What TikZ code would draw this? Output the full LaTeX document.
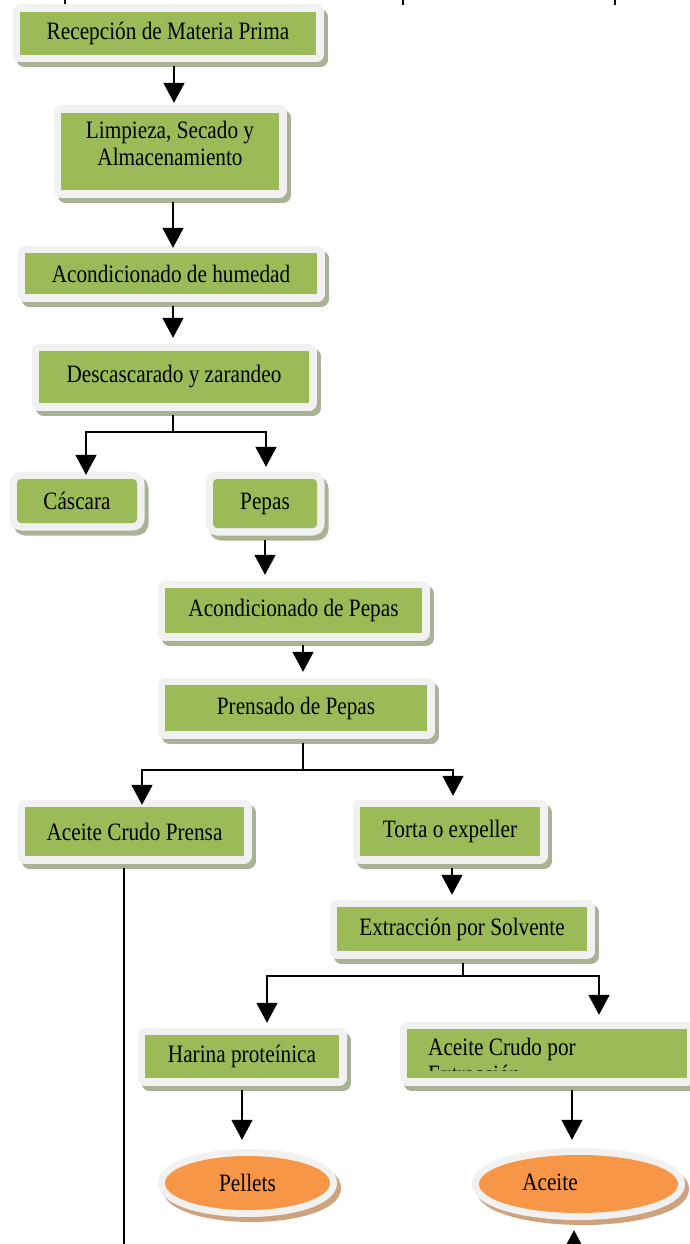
\documentclass[tikz,border=0pt]{standalone}
\usepackage{graphicx}
\usepackage{fontspec}
\setmainfont{Liberation Serif}
\usetikzlibrary{arrows.meta,shapes.geometric}

\definecolor{boxgreen}{HTML}{9BBB59}
\definecolor{framegray}{HTML}{F1F1F1}
\definecolor{shadowgreen}{HTML}{A8B294}
\definecolor{orangefill}{HTML}{F79646}
\definecolor{tanshadow}{HTML}{CFA27E}

% slightly condensed serif lettering
\newcommand\nar[1]{\scalebox{0.85}[1]{#1}}

\tikzset{
  every node/.style={font=\fontsize{25}{27}\selectfont, text=black},
  stepbox/.style n args={2}{fill=boxgreen, inner sep=0pt,
    minimum width=#1, minimum height=#2, align=center,
    preaction={fill=shadowgreen, draw=shadowgreen, line width=15pt,
      line join=round, transform canvas={shift={(4pt,-5pt)}}},
    preaction={draw=framegray, line width=15pt, line join=round}},
  endoval/.style n args={2}{ellipse, fill=orangefill, inner sep=0pt,
    minimum width=#1, minimum height=#2,
    preaction={fill=tanshadow, draw=tanshadow, line width=14pt,
      transform canvas={shift={(4pt,-5pt)}}},
    preaction={draw=framegray, line width=14pt}},
  link/.style={draw=black, line width=1.6pt},
  arr/.style={link, -{Triangle[length=20pt,width=21pt]}},
}

\begin{document}
\begin{tikzpicture}[x=1pt, y=-1pt]
\useasboundingbox (0,0) rectangle (690,1244);

% stubs of lettering cut off along the top edge
\draw[line width=2pt] (65,0) -- (65,5);
\draw[line width=2pt] (403,0) -- (403,5);
\draw[line width=2pt] (615,0) -- (615,5);

% process steps
\node[stepbox={296pt}{43pt}] (b1) at (168,33.5) {\nar{Recepción de Materia Prima}};
\node[stepbox={218pt}{77pt}] (b2) at (170,151.5) {\nar{Limpieza, Secado y}\\\nar{Almacenamiento}\\[-10pt]};
\node[stepbox={292pt}{41pt}] (b3) at (171,273.5) {\nar{Acondicionado de humedad}};
\node[stepbox={270pt}{52pt}] (b4) at (174,377) {\nar{Descascarado y zarandeo}};
\node[stepbox={120pt}{44pt}, rounded corners=4pt] (cas) at (77,501) {\nar{Cáscara}};
\node[stepbox={104pt}{49pt}, rounded corners=4pt] (pep) at (265,503.5) {\nar{Pepas}};
\node[stepbox={257pt}{45pt}] (acp) at (293.5,610.5) {\nar{Acondicionado de Pepas}};
\node[stepbox={262pt}{46pt}] (pre) at (296,708) {\nar{Prensado de Pepas}};
\node[stepbox={219pt}{49pt}] (acr) at (134.5,831.5) {\nar{Aceite Crudo Prensa}};
\node[stepbox={180pt}{49pt}] (tor) at (450,831.5) {\nar{Torta o expeller}};
\node[stepbox={250pt}{44pt}] (ext) at (462,929) {\nar{Extracción por Solvente}};
\node[stepbox={194pt}{43pt}] (har) at (242,1056.5) {\nar{Harina proteínica}};
\node[stepbox={280pt}{49pt}] (ace) at (547,1053.5) {};
\begin{scope}
  % the second line only shows its upper edge
  \clip (ace.north west) rectangle ([yshift=8pt]ace.south east);
  \node[anchor=north west, inner sep=0pt, align=left] (acetxt) at (428,1038)
    {\nar{Aceite Crudo por}\\\nar{Extracción}};
\end{scope}

% products
\node[endoval={165pt}{54pt}] (pel) at (247.5,1183) {\nar{Pellets}};
\node[endoval={199pt}{58pt}] (acei) at (578.5,1184) {\raisebox{3pt}{\nar{Aceite}}\kern57pt};

% loose ends running off the bottom edge
\coordinate (acrend) at (124,1275);
\coordinate (aceitein) at (574,1275);

% connectors
\draw[arr, shorten <=11pt, shorten >=10pt] ([xshift=6pt]b1.south) -- ([xshift=4pt]b2.north);
\draw[arr, shorten <=12pt, shorten >=5pt] ([xshift=3pt]b2.south) -- ([xshift=2pt]b3.north);
\draw[arr, shorten <=12pt, shorten >=13pt] ([xshift=2pt]b3.south) -- ([xshift=-1pt]b4.north);
\draw[arr, shorten <=12pt, shorten >=4pt] ([xshift=-1pt]b4.south) -- ++(0,29) -| ([xshift=9pt]cas.north);
\draw[arr, shorten <=12pt, shorten >=12pt] ([xshift=-1pt]b4.south) -- ++(0,29) -| ([xshift=1pt]pep.north);
\draw[arr, shorten <=12pt, shorten >=13pt] (pep.south) -- ([xshift=-28.5pt]acp.north);
\draw[arr, shorten <=12pt, shorten >=13pt] ([xshift=9.5pt]acp.south) -- ([xshift=7pt]pre.north);
\draw[arr, shorten <=12pt, shorten >=2pt] ([xshift=7pt]pre.south) -- ++(0,39) -| ([xshift=7.5pt]acr.north);
\draw[arr, shorten <=12pt, shorten >=11pt] ([xshift=7pt]pre.south) -- ++(0,39) -| ([xshift=3pt]tor.north);
\draw[link, shorten <=12pt] ([xshift=-10.5pt]acr.south) -- (acrend);
\draw[arr, shorten <=12pt, shorten >=12pt] ([xshift=2pt]tor.south) -- ([xshift=-10pt]ext.north);
\draw[arr, shorten <=12pt, shorten >=12pt] ([xshift=1pt]ext.south) -- ++(0,25) -| ([xshift=25pt]har.north);
\draw[arr, shorten <=12pt, shorten >=14pt] ([xshift=1pt]ext.south) -- ++(0,25) -| ([xshift=52pt]ace.north);
\draw[arr, shorten <=12pt, shorten >=16pt] (har.south) -- ([xshift=-5.5pt]pel.north);
\draw[arr, shorten <=12pt, shorten >=15pt] ([xshift=25pt]ace.south) -- ([xshift=-6.5pt]acei.north);
\draw[arr, shorten >=17pt] (aceitein) -- ([xshift=-4.5pt]acei.south);
\end{tikzpicture}
\end{document}
